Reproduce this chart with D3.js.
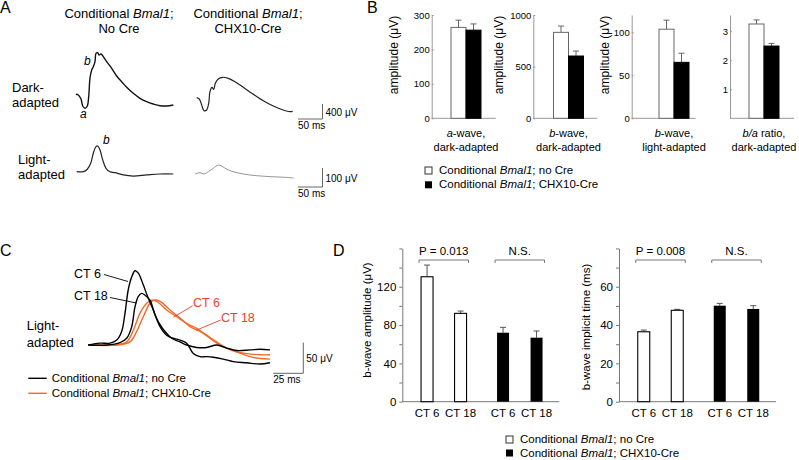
<!DOCTYPE html>
<html>
<head>
<meta charset="utf-8">
<script src="https://cdn.jsdelivr.net/npm/d3@7"></script>
<style>
body { margin: 0; background: #fff; }
svg { font-family: "Liberation Sans", Arial, sans-serif; }
</style>
</head>
<body>
<div id="fig"></div>
<script>
// ---- data ----
// panel A traces: [time (ms), voltage (uV)]
var darkNoCre = [[0,-8],[4.7,-27],[10.2,-133],[13.7,-320],[18.4,-381],[23.1,-320],[25.9,-72],[28.6,427],[32,640],[35.3,728],[38.8,861],[40.8,1085],[44.3,1101],[46.9,1040],[51,1067],[55.7,995],[62.6,861],[72.9,685],[83,480],[93.2,328],[103.4,179],[116.9,19],[130.6,-115],[144.2,-205],[157.7,-267],[171.4,-312],[185,-320],[198.6,-293]];
var darkCre = [[0,0],[5.3,-35],[10.2,-195],[14.9,-347],[20.4,-328],[24.5,-149],[27.1,160],[31.2,277],[34.7,224],[38,384],[44.1,499],[53.1,544],[64.5,517],[78.2,427],[95.1,277],[115.5,91],[135.9,-80],[156.3,-221],[176.7,-328],[190.4,-373],[195.9,-363]];
var lightNoCre = [[0,0],[13.5,0],[21.6,13],[28.6,44],[33.9,97],[39.4,132],[42.9,135],[47.6,114],[53.1,62],[59.8,18],[68,0],[78.2,-5],[95.1,-17],[115.5,-23],[142.9,-17],[170,-12],[197.1,-12]];
var lightCre = [[0,0],[10.2,7],[18.4,0],[27.1,12],[37.3,30],[47.6,47],[54.5,42],[64.7,25],[78.2,12],[98.6,0],[126,-9],[153,-14],[180.8,-17],[201.2,-21]];

// panel B
var bGroups = ["noCre", "cre"];
var bNoCre = [264, 832, 103.5, 3.25];
var bNoCreErr = [21, 61, 10.5, 0.14];
var bCre = [256, 603, 65, 2.49];
var bCreErr = [18, 48, 10.6, 0.09];
var bTicks = [[0, 100, 200, 300], [0, 500, 1000], [0, 50, 100], [1, 2, 3]];
var bMax = [300, 1000, 120, 3.56];
var bLabel1 = [[["a",1],["-wave,",0]], [["b",1],["-wave,",0]], [["b",1],["-wave,",0]], [["b/a",1],[" ratio,",0]]];
var bLabel2 = ["dark-adapted", "dark-adapted", "light-adapted", "dark-adapted"];

// panel C traces (light-adapted, CT 6 / CT 18)
var cNoCre6 = [[0,0],[9.7,3],[18.1,3],[23.7,8],[27.8,22],[30.6,52],[33.3,90],[36.2,111],[38.9,121],[41.7,117],[45.8,98],[50,76],[54.2,57],[59.8,30],[65.3,16],[70.8,11],[76.4,8],[82,3],[87.5,-14],[93.1,-19],[98.7,-19],[104.2,-20],[112.5,-23],[120.8,-27],[132,-29],[143.1,-31],[151.4,-29]];
var cNoCre18 = [[0,0],[15.3,0],[26.4,4],[32,11],[36.2,30],[38.9,62],[41.7,79],[44.5,84],[47.3,81],[51.4,73],[55.6,49],[59.8,33],[63.9,22],[69.5,11],[76.4,5],[82,0],[90.3,-4],[98.7,-4],[107,0],[115.3,-5],[123.7,-9],[134.8,-8],[143.1,-7],[151.4,-8]];
var cCre6 = [[0,0],[20.8,0],[32,5],[37.5,24],[43.1,52],[48.7,68],[52.8,73],[57,71],[65.3,57],[73.7,46],[82,35],[90.3,27],[98.7,16],[107,5],[115.3,-5],[123.7,-11],[132,-14],[143.1,-16],[151.4,-16]];
var cCre18 = [[0,0],[23.7,0],[34.7,5],[40.3,22],[45.8,46],[51.4,68],[54.7,73],[59.8,71],[68.1,57],[76.4,44],[84.7,30],[93.1,22],[101.4,11],[109.7,0],[118,-7],[126.4,-13],[134.8,-19],[143.1,-22],[151.4,-23]];

// panel D
var dTimes = ["CT 6", "CT 18"];
var dAmpNoCre = [130.4, 92.2];
var dAmpNoCreErr = [12.2, 2.4];
var dAmpCre = [72, 66.8];
var dAmpCreErr = [5.6, 7];
var dImpNoCre = [36.5, 47.7];
var dImpNoCreErr = [0.9, 0.5];
var dImpCre = [50.1, 48.4];
var dImpCreErr = [1.2, 1.7];
var dSig = [["P = 0.013", "N.S."], ["P = 0.008", "N.S."]];

var legendNoCre = [["Conditional ",0],["Bmal1",1],["; no Cre",0]];
var legendCre = [["Conditional ",0],["Bmal1",1],["; CHX10-Cre",0]];

var ORANGE = "#f26a2a", RED = "#ee4035";

// ---- drawing ----
var W = 799, H = 460;
var svg = d3.select("#fig").append("svg").attr("width", W).attr("height", H);
svg.append("rect").attr("width", W).attr("height", H).attr("fill", "#fff");

function rich(g, x, y, parts, size, anchor, fill) {
    var t = g.append("text").attr("x", x).attr("y", y)
        .attr("font-size", size)
        .attr("text-anchor", anchor || "start")
        .attr("fill", fill || "#000");
    parts.forEach(function(p) {
        t.append("tspan").attr("font-style", p[1] ? "italic" : null).text(p[0]);
    });
    return t;
}
function txt(g, x, y, s, size, anchor, fill) {
    return rich(g, x, y, [[s, 0]], size, anchor, fill);
}
function styleAxis(sel, col, size) {
    sel.attr("font-family", null).attr("font-size", size);
    sel.select(".domain").attr("stroke", col);
    sel.selectAll(".tick line").attr("stroke", col);
    sel.selectAll(".tick text").attr("fill", "#000");
}
var smooth = d3.curveCatmullRom.alpha(0.5);

// ===== Panel A =====
var gA = svg.append("g");
txt(gA, 0, 13, "A", 16);
rich(gA, 119, 18, legendNoCre.slice(0, 2).concat([[";",0]]), 13, "middle");
txt(gA, 119, 33, "No Cre", 13, "middle");
rich(gA, 248, 18, legendNoCre.slice(0, 2).concat([[";",0]]), 13, "middle");
txt(gA, 248, 33, "CHX10-Cre", 13, "middle");
txt(gA, 12, 92, "Dark-", 13);
txt(gA, 12, 107, "adapted", 13);
txt(gA, 18, 164, "Light-", 13);
txt(gA, 18, 179, "adapted", 13);

var tA = d3.scaleLinear().domain([0, 50]).range([0, 24.5]);
var vDark = d3.scaleLinear().domain([0, 400]).range([0, -15]);
var vLight = d3.scaleLinear().domain([0, 100]).range([0, -19]);

function trace(g, data, ox, oy, xs, ys, col, w) {
    g.append("path").datum(data)
        .attr("transform", "translate(" + ox + "," + oy + ")")
        .attr("fill", "none").attr("stroke", col).attr("stroke-width", w)
        .attr("stroke-linejoin", "round")
        .attr("d", d3.line().x(function(d) { return xs(d[0]); }).y(function(d) { return ys(d[1]); }).curve(smooth));
}
trace(gA, darkNoCre, 76, 94, tA, vDark, "#111", 1.4);
trace(gA, darkCre, 196.7, 97.7, tA, vDark, "#222", 1.2);
trace(gA, lightNoCre, 76.7, 171.7, tA, vLight, "#222", 1.2);
trace(gA, lightCre, 195, 174, tA, vLight, "#888", 0.9);

rich(gA, 80, 118, [["a",1]], 12);
rich(gA, 84, 65, [["b",1]], 12);
rich(gA, 103, 144, [["b",1]], 12);

function scaleBar(g, x, y, xs, ys, tVal, vVal, tLab, vLab) {
    var x2 = x + xs(tVal), y2 = y + ys(vVal);
    g.append("path").attr("fill", "none").attr("stroke", "#666").attr("stroke-width", 1)
        .attr("d", "M" + x + "," + y + "H" + x2 + "V" + y2);
    txt(g, x2 + 3, (y + y2) / 2 + 4, vLab, 10);
    txt(g, x, y + 10, tLab, 10);
}
scaleBar(gA, 298, 119, tA, vDark, 50, 400, "50 ms", "400 \u03bcV");
scaleBar(gA, 298, 187, tA, vLight, 50, 100, "50 ms", "100 \u03bcV");

// ===== Panel B =====
var gB = svg.append("g");
txt(gB, 367, 13, "B", 16);
var bAxisX = [431.7, 533.3, 631.7, 730];
var bCenter = [466, 568.5, 674, 764];
var bTitleX = [398, 503, 609];
var bBase = 118.3;
bNoCre.forEach(function(v, i) {
    var y = d3.scaleLinear().domain([0, bMax[i]]).range([bBase, 15]);
    var xb = d3.scaleBand().domain(bGroups).range([bCenter[i] - 15, bCenter[i] + 15]);
    var g = gB.append("g");
    g.append("g").attr("transform", "translate(" + bAxisX[i] + ",0)")
        .call(d3.axisLeft(y).tickValues(bTicks[i]).tickSize(-2).tickSizeOuter(0).tickPadding(2)
            .tickFormat(d3.format("d")))
        .call(styleAxis, "#999", 9.5);
    g.append("line").attr("x1", bAxisX[i]).attr("x2", bAxisX[i] + 64)
        .attr("y1", y(0)).attr("y2", y(0)).attr("stroke", "#999");
    var vals = [bNoCre[i], bCre[i]], errs = [bNoCreErr[i], bCreErr[i]];
    bGroups.forEach(function(k, j) {
        var cx = xb(k) + xb.bandwidth() / 2;
        g.append("line").attr("x1", cx).attr("x2", cx)
            .attr("y1", y(vals[j])).attr("y2", y(vals[j] + errs[j])).attr("stroke", "#666");
        g.append("line").attr("x1", cx - 3).attr("x2", cx + 3)
            .attr("y1", y(vals[j] + errs[j])).attr("y2", y(vals[j] + errs[j])).attr("stroke", "#666");
        g.append("rect").attr("x", xb(k)).attr("width", xb.bandwidth())
            .attr("y", y(vals[j])).attr("height", y(0) - y(vals[j]))
            .attr("fill", j ? "#000" : "#fff").attr("stroke", j ? "#000" : "#666").attr("stroke-width", 1);
    });
    if (i < 3) {
        txt(g, 0, 0, "amplitude (\u03bcV)", 12, "middle")
            .attr("transform", "translate(" + bTitleX[i] + ",55) rotate(-90)");
    }
    rich(g, bCenter[i], 137, bLabel1[i], 11, "middle");
    txt(g, bCenter[i], 151, bLabel2[i], 11, "middle");
});
function legend(g, x, y, gap, size) {
    g.append("rect").attr("x", x).attr("y", y - 7).attr("width", 7).attr("height", 7)
        .attr("fill", "#fff").attr("stroke", "#333");
    g.append("rect").attr("x", x).attr("y", y - 7 + gap).attr("width", 7).attr("height", 7)
        .attr("fill", "#000");
    rich(g, x + 14, y, legendNoCre, size);
    rich(g, x + 14, y + gap, legendCre, size);
}
legend(gB, 425, 174, 14.3, 11.5);

// ===== Panel C =====
var gC = svg.append("g");
txt(gC, 0, 256, "C", 16);
var tC = d3.scaleLinear().domain([0, 25]).range([0, 30]);
var vC = d3.scaleLinear().domain([0, 50]).range([0, -30.7]);
trace(gC, cCre18, 88.3, 345, tC, vC, ORANGE, 1.4);
trace(gC, cCre6, 88.3, 345, tC, vC, ORANGE, 1.4);
trace(gC, cNoCre18, 88.3, 345, tC, vC, "#000", 1.4);
trace(gC, cNoCre6, 88.3, 345, tC, vC, "#000", 1.4);
txt(gC, 74, 278, "CT 6", 12.5);
txt(gC, 74, 300, "CT 18", 12.5);
gC.append("path").attr("fill", "none").attr("stroke", "#000").attr("stroke-width", 0.9)
    .attr("d", "M104,274.5L128,281.5M110,297.5L136.5,303");
txt(gC, 193, 307, "CT 6", 12.5, "start", RED);
txt(gC, 221, 321.5, "CT 18", 12.5, "start", RED);
gC.append("path").attr("fill", "none").attr("stroke", RED).attr("stroke-width", 0.9)
    .attr("d", "M192.7,305.7L173.3,317.3M220.7,320L196.7,330");
txt(gC, 26.7, 330, "Light-", 13);
txt(gC, 26.7, 347, "adapted", 13);
scaleBar(gC, 273.3, 373.3, tC, vC, 25, 50, "25 ms", "50 \u03bcV");
gC.append("line").attr("x1", 28.3).attr("x2", 46.7).attr("y1", 378.3).attr("y2", 378.3).attr("stroke", "#000").attr("stroke-width", 1.4);
gC.append("line").attr("x1", 28.3).attr("x2", 46.7).attr("y1", 393.3).attr("y2", 393.3).attr("stroke", ORANGE).attr("stroke-width", 1.4);
rich(gC, 51.7, 382, legendNoCre, 11.5);
rich(gC, 51.7, 397, legendCre, 11.5);

// ===== Panel D =====
var gD = svg.append("g");
txt(gD, 333, 256, "D", 16);
var dBase = 401.7, dTop = 248.4;
var dCharts = [
    { ax: 402.3, max: 160, step: 20, lab: 40, no: dAmpNoCre, noE: dAmpNoCreErr, cr: dAmpCre, crE: dAmpCreErr,
      title: "b-wave amplitude (\u03bcV)", tx: 371, ty: 320 },
    { ax: 619, max: 80, step: 10, lab: 20, no: dImpNoCre, noE: dImpNoCreErr, cr: dImpCre, crE: dImpCreErr,
      title: "b-wave implicit time (ms)", tx: 590, ty: 327 }
];
dCharts.forEach(function(c, ci) {
    var y = d3.scaleLinear().domain([0, c.max]).range([dBase, dTop]);
    var xg = d3.scaleBand().domain(bGroups).range([c.ax + 3.5, c.ax + 155.5]);
    var xi = d3.scalePoint().domain(dTimes).range([21.25, 54.75]);
    var g = gD.append("g");
    g.append("g").attr("transform", "translate(" + c.ax + ",0)")
        .call(d3.axisLeft(y).tickValues(d3.range(0, c.max + 1, c.step)).tickSize(3).tickSizeOuter(0).tickPadding(3)
            .tickFormat(function(d) { return (d % c.lab === 0 && d < c.max) ? d : ""; }))
        .call(styleAxis, "#777", 11.5);
    g.append("line").attr("x1", c.ax).attr("x2", c.ax + 157)
        .attr("y1", dBase).attr("y2", dBase).attr("stroke", "#777");
    txt(g, 0, 0, c.title, 11.5, "middle")
        .attr("transform", "translate(" + c.tx + "," + c.ty + ") rotate(-90)");
    bGroups.forEach(function(k, j) {
        var vals = j ? c.cr : c.no, errs = j ? c.crE : c.noE;
        dTimes.forEach(function(t, ti) {
            var cx = xg(k) + xi(t);
            var v = vals[ti], e = errs[ti];
            g.append("line").attr("x1", cx).attr("x2", cx).attr("y1", y(v)).attr("y2", y(v + e)).attr("stroke", "#555");
            g.append("line").attr("x1", cx - 3).attr("x2", cx + 3).attr("y1", y(v + e)).attr("y2", y(v + e)).attr("stroke", "#555");
            g.append("rect").attr("x", cx - 6).attr("width", 12)
                .attr("y", y(v)).attr("height", dBase - y(v))
                .attr("fill", j ? "#000" : "#fff").attr("stroke", "#000").attr("stroke-width", j ? 0 : 1.1);
            txt(g, cx, 417, t, 11.5, "middle");
        });
        var x1 = xg(k) + xi(dTimes[0]) - 8, x2 = xg(k) + xi(dTimes[1]) + 8;
        g.append("path").attr("fill", "none").attr("stroke", "#777")
            .attr("d", "M" + x1 + ",263V260H" + x2 + "V263");
        txt(g, (x1 + x2) / 2, 255, dSig[ci][j], 11.5, "middle");
    });
});
legend(gD, 506, 443, 13.5, 11.5);
</script>
</body>
</html>
